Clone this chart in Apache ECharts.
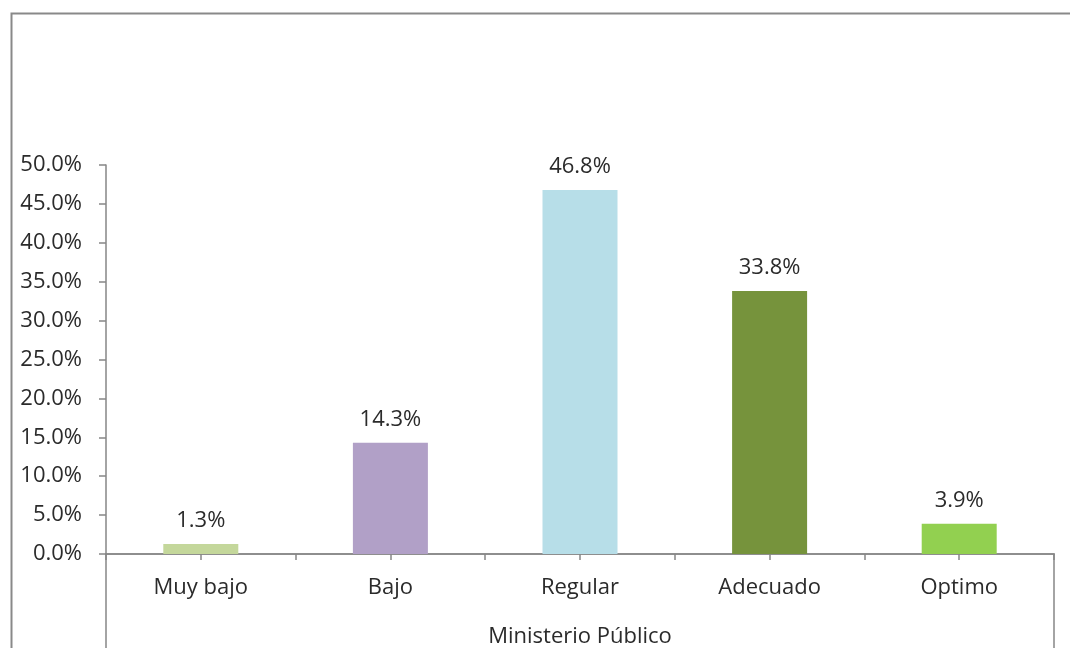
<!DOCTYPE html>
<html>
<head>
<meta charset="utf-8">
<script src="https://cdn.jsdelivr.net/npm/echarts@6/dist/echarts.min.js"></script>
<style>
html,body{margin:0;padding:0;background:#fff;}
#chart{width:1070px;height:648px;}
</style>
</head>
<body>
<div id="chart"></div>
<script>
const categories = ['Muy bajo', 'Bajo', 'Regular', 'Adecuado', 'Optimo'];
const values = [1.3, 14.3, 46.8, 33.8, 3.9];
const barColors = ['#c4d79b', '#b1a0c7', '#b7dee8', '#76933c', '#92d050'];
const axisTitle = 'Ministerio Público';
const yMin = 0, yMax = 50, yStep = 5;

const FONT = '"Open Sans", "Noto Sans", sans-serif';
const TXT = '#2b2b2b';
const AX = '#868686';

const chart = echarts.init(document.getElementById('chart'), null, {renderer: 'canvas'});
chart.setOption({
  animation: false,
  backgroundColor: '#ffffff',
  graphic: [{
    type: 'rect', left: 9, top: 11, shape: {width: 1100, height: 700},
    style: {fill: 'none', stroke: '#898989', lineWidth: 2}, silent: true, z: -1
  }],
  grid: [
    {left: 106, right: 16, top: 165, bottom: 94, containLabel: false, outerBoundsMode: 'none'},
    {left: 106, right: 16, top: 554, bottom: -8, show: true, borderColor: AX, borderWidth: 1.5,
      backgroundColor: 'transparent', outerBoundsMode: 'none'}
  ],
  xAxis: [
    {
      type: 'category', data: categories, gridIndex: 0,
      axisLine: {lineStyle: {color: AX, width: 1.5}},
      axisTick: {show: true, length: 6, lineStyle: {color: AX, width: 1.5}},
      axisLabel: {color: TXT, fontFamily: FONT, fontSize: 22, margin: 23},
      name: axisTitle, nameLocation: 'middle', nameGap: 72,
      nameTextStyle: {color: TXT, fontFamily: FONT, fontSize: 22}
    },
    {
      type: 'category', data: categories, gridIndex: 0, position: 'bottom',
      axisLine: {show: false},
      axisTick: {show: true, alignWithLabel: true, length: 6, lineStyle: {color: AX, width: 1.5}},
      axisLabel: {show: false}
    },
    {type: 'value', gridIndex: 1, show: false}
  ],
  yAxis: [
    {
      type: 'value', gridIndex: 0, min: yMin, max: yMax, interval: yStep,
      axisLine: {show: true, lineStyle: {color: AX, width: 1.5}},
      axisTick: {show: true, length: 7, lineStyle: {color: AX, width: 1.5}},
      splitLine: {show: false},
      axisLabel: {color: TXT, fontFamily: FONT, fontSize: 22, margin: 24,
        formatter: v => v.toFixed(1) + '%'}
    },
    {type: 'value', gridIndex: 1, show: false}
  ],
  series: [{
    type: 'bar', xAxisIndex: 0, yAxisIndex: 0,
    data: values.map((v, i) => ({value: v, itemStyle: {color: barColors[i]}})),
    barWidth: 75,
    label: {show: true, position: 'top', distance: 12, color: TXT, fontFamily: FONT, fontSize: 22,
      formatter: p => p.value.toFixed(1) + '%'}
  }]
});
</script>
</body>
</html>
